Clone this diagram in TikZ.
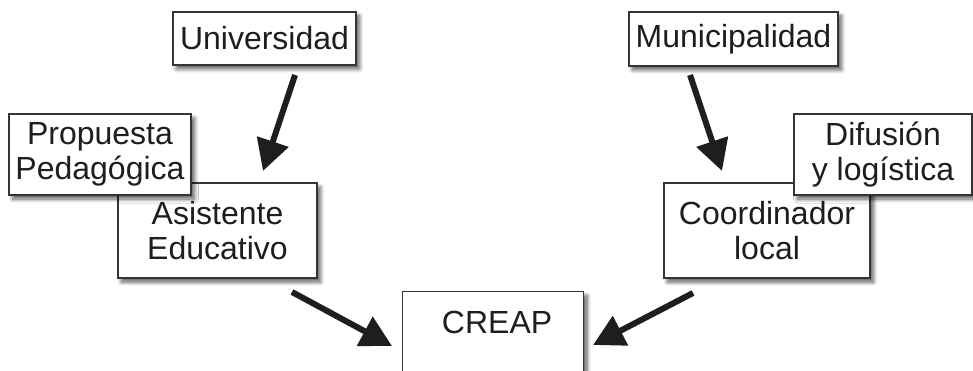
\documentclass[tikz,border=0pt]{standalone}
\usepackage{fontspec}
\setmainfont{Liberation Sans}
\usetikzlibrary{arrows.meta,shadows.blur,calc}
\definecolor{ink}{HTML}{1E1E1E}
\begin{document}
\begin{tikzpicture}[x=1pt,y=-1pt,
  box/.style={draw=ink!90,line width=1.2pt,fill=white,inner sep=0pt,align=center,
    text=ink,font=\fontsize{32}{35}\selectfont,
    blur shadow={shadow xshift=3.5pt,shadow yshift=-4pt,shadow blur radius=4pt,shadow blur steps=8,shadow opacity=65}},
  arr/.style={draw=ink,line width=6pt,-{Triangle[length=31pt,width=32pt]}}]
\useasboundingbox (0,0) rectangle (973,371);
\clip (0,0) rectangle (973,371);
% left side
\node[box,minimum width=183pt,minimum height=53pt] (uni) at (264.5,38.5) {Universidad};
\node[box,minimum width=199pt,minimum height=95pt] (asi) at (217.5,230.5) {Asistente\\Educativo};
\node[box,minimum width=182pt,minimum height=81pt] (pro) at (100,154.5) {Propuesta\\Pedagógica};
% right side
\node[box,minimum width=209pt,minimum height=54pt] (mun) at (733.5,39) {Municipalidad};
\node[box,minimum width=206pt,minimum height=95pt] (coo) at (767,230.5) {Coordinador\\local};
\node[box,minimum width=178pt,minimum height=81pt] (dif) at (883,154.5) {Difusión\\y logística};
% CREAP
\node[box,minimum width=181pt,minimum height=110pt,anchor=north west] (cre) at (402,291) {};
\node[text=ink,font=\fontsize{32}{35}\selectfont,inner sep=0pt] (cret) at ($(cre.north)+(4,31)$) {CREAP};
% connector ends
\coordinate (a1s) at (295,75);  \coordinate (a1e) at (263,171);
\coordinate (a2s) at (292,292); \coordinate (a2e) at (392,346);
\coordinate (a3s) at (690,75);  \coordinate (a3e) at (722,171);
\coordinate (a4s) at (693,293); \coordinate (a4e) at (593,345);
\draw[arr] (a1s) -- (a1e);
\draw[arr] (a2s) -- (a2e);
\draw[arr] (a3s) -- (a3e);
\draw[arr] (a4s) -- (a4e);
\end{tikzpicture}
\end{document}
